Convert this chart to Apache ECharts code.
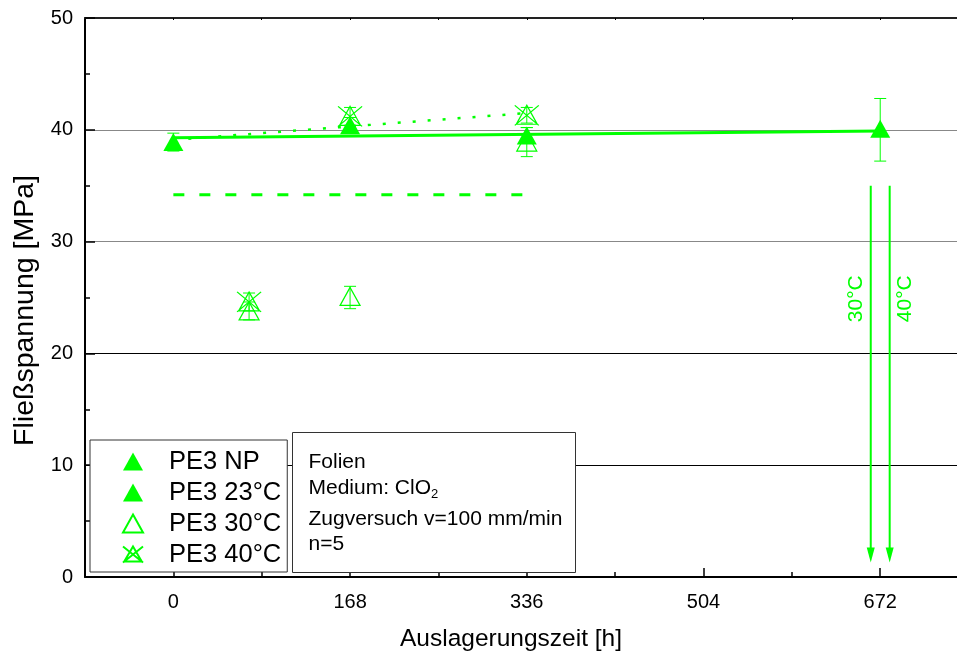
<!DOCTYPE html>
<html>
<head>
<meta charset="utf-8">
<script src="https://cdn.jsdelivr.net/npm/echarts@6/dist/echarts.min.js"></script>
<style>
  html, body { margin: 0; padding: 0; background: #fff; }
  #chart { width: 957px; height: 657px; }
</style>
</head>
<body>
<div id="chart"></div>
<script>
// Fließspannung von PE3-Folien nach Auslagerung in ClO2
const GREEN = '#00ff00';
const FONT = 'Liberation Sans, Arial, Helvetica, sans-serif';

const seriesNames = ['PE3 NP', 'PE3 23°C', 'PE3 30°C', 'PE3 40°C'];

const timesNP = [0];
const stressNP = [38.9];
const timesT23 = [168, 336, 672];
const stressT23 = [40.4, 39.5, 40.1];
const timesT30 = [72, 168, 336];
const stressT30 = [23.8, 25.1, 38.9];
const timesT40 = [72, 168, 336];
const stressT40 = [24.6, 41.2, 41.3];

// Streubereich (min / max) je Messpunkt
const errTimes = [0, 168, 336, 672, 72, 168, 336, 72, 168, 336];
const errLow   = [38.1, 39.7, 39.0, 37.2, 23.0, 24.0, 37.6, 23.8, 40.4, 40.6];
const errHigh  = [39.7, 41.1, 40.2, 42.8, 24.6, 26.0, 40.2, 25.4, 42.0, 42.0];

// Ausgleichsgeraden
const fitSolidTimes = [0, 672];
const fitSolidStress = [39.3, 39.9];
const fitDotTimes = [0, 336];
const fitDotStress = [39.1, 41.5];
const meanDashTimes = [0, 336];
const meanDashStress = [34.2, 34.2];

// Proben versagt vor 672 h
const failLabels = ['30°C', '40°C'];
const failTimes = [663, 681];
const failFrom = [35.0, 35.0];
const failTo = [1.3, 1.3];

// Achsen
const xMin = -84, xMax = 745;
const xMajorTicks = [0, 168, 336, 504, 672];
const xMinorTicks = [84, 252, 420, 588];
const xTopTicks = [0, 84, 168, 252, 336, 420, 504, 588, 672];
const yMin = 0, yMax = 50, yStep = 10;

const infoLines = ['Folien', 'Medium: ClO', 'Zugversuch v=100 mm/min', 'n=5'];

const pairs = (xs, ys) => xs.map((x, i) => [x, ys[i]]);

const crossTriangle = 'path://M12,1L22.5,19L1.5,19Z M0,1L24,20 M24,1L0,20';

const chart = echarts.init(document.getElementById('chart'), null, { renderer: 'canvas' });

const option = {
  backgroundColor: '#fff',
  animation: false,
  textStyle: { fontFamily: FONT },
  grid: { left: 85, right: 0, top: 18, bottom: 79, containLabel: false },
  xAxis: [
    {
      type: 'value', min: xMin, max: xMax, interval: 84, position: 'bottom',
      name: 'Auslagerungszeit [h]', nameLocation: 'middle', nameGap: 50,
      nameTextStyle: { fontSize: 24.5, color: '#000', fontFamily: FONT, padding: [0, 20, 0, 0] },
      axisLine: { show: true, onZero: false, lineStyle: { color: '#000', width: 2 } },
      axisTick: { show: true, inside: true, length: 9, customValues: xMajorTicks, lineStyle: { color: '#000', width: 1.5 } },
      axisLabel: {
        show: true, customValues: xMajorTicks, margin: 15, fontSize: 20, color: '#000', fontFamily: FONT,
        formatter: v => (v >= 0 && v % 168 === 0) ? String(v) : ''
      },
      splitLine: { show: false }
    },
    {
      type: 'value', min: xMin, max: xMax, interval: 84, position: 'bottom',
      axisLine: { show: false },
      axisTick: { show: true, inside: true, length: 5, customValues: xMinorTicks, lineStyle: { color: '#000', width: 1.5 } },
      axisLabel: { show: false },
      splitLine: { show: false }
    },
    {
      type: 'value', min: xMin, max: xMax, interval: 84, position: 'top',
      axisLine: { show: true, onZero: false, lineStyle: { color: '#222', width: 2 } },
      axisTick: { show: true, inside: true, length: 2, customValues: xTopTicks, lineStyle: { color: '#000', width: 1 } },
      axisLabel: { show: false },
      splitLine: { show: false }
    }
  ],
  yAxis: {
    type: 'value', min: yMin, max: yMax, interval: yStep, z: 0,
    name: 'Fließspannung [MPa]', nameLocation: 'middle', nameGap: 43,
    nameTextStyle: { fontSize: 28.5, color: '#000', fontFamily: FONT, padding: [0, 26, 0, 0] },
    axisLine: { show: true, onZero: false, lineStyle: { color: '#000', width: 2 } },
    axisTick: { show: true, inside: true, length: 10, lineStyle: { color: '#000', width: 1.5 } },
    minorTick: { show: true, splitNumber: 2, length: 5, lineStyle: { color: '#000', width: 1.5 } },
    axisLabel: { margin: 12, fontSize: 20, color: '#000', fontFamily: FONT },
    splitLine: { show: true, lineStyle: { color: ['#000', '#000', '#000', '#888', '#888', '#000'], width: 1 } },
    minorSplitLine: { show: false }
  },
  legend: {
    data: seriesNames,
    orient: 'vertical', left: 90, top: 440, zlevel: 2, z: 50,
    backgroundColor: '#fff', borderColor: '#333', borderWidth: 1,
    padding: [6, 6, 2, 32], itemGap: 0, itemWidth: 20, itemHeight: 18,
    selectedMode: false,
    textStyle: { fontSize: 25.5, color: '#000', fontFamily: FONT, lineHeight: 31, padding: [0, 0, 0, 21] }
  },
  graphic: [
    {
      type: 'group', left: 292, top: 432, zlevel: 2, z: 100,
      children: [
        { type: 'rect', z: 100, shape: { x: 0, y: 0, width: 283, height: 140 }, style: { fill: '#fff', stroke: '#333', lineWidth: 1 } },
        { type: 'text', z: 101, x: 16, y: 30, style: { text: infoLines[0], font: '21px ' + FONT, fill: '#000', verticalAlign: 'middle' } },
        {
          type: 'text', z: 101, x: 16, y: 56,
          style: {
            text: '{a|' + infoLines[1] + '}{s|2}', fill: '#000', verticalAlign: 'middle',
            rich: {
              a: { fontSize: 21, fontFamily: FONT, fill: '#000', lineHeight: 24, verticalAlign: 'middle' },
              s: { fontSize: 13, fontFamily: FONT, fill: '#000', lineHeight: 10, verticalAlign: 'bottom' }
            }
          }
        },
        { type: 'text', z: 101, x: 16, y: 87, style: { text: infoLines[2], font: '21px ' + FONT, fill: '#000', verticalAlign: 'middle' } },
        { type: 'text', z: 101, x: 16, y: 112, style: { text: infoLines[3], font: '21px ' + FONT, fill: '#000', verticalAlign: 'middle' } }
      ]
    }
  ],
  series: [
    {
      name: 'Streuung', type: 'custom', xAxisIndex: 0, z: 2,
      data: errTimes.map((t, i) => [t, errLow[i], errHigh[i]]),
      renderItem: (params, api) => {
        const lo = api.coord([api.value(0), api.value(1)]);
        const hi = api.coord([api.value(0), api.value(2)]);
        const hw = 6;
        const st = { stroke: GREEN, lineWidth: 1 };
        return {
          type: 'group', children: [
            { type: 'line', shape: { x1: lo[0], y1: lo[1], x2: hi[0], y2: hi[1] }, style: st },
            { type: 'line', shape: { x1: lo[0] - hw, y1: lo[1], x2: lo[0] + hw, y2: lo[1] }, style: st },
            { type: 'line', shape: { x1: hi[0] - hw, y1: hi[1], x2: hi[0] + hw, y2: hi[1] }, style: st }
          ]
        };
      }
    },
    {
      name: 'Mittelwert 30°C', type: 'line', data: pairs(meanDashTimes, meanDashStress),
      symbol: 'none', silent: true, z: 3,
      lineStyle: { color: GREEN, width: 3, type: [11, 15] }
    },
    {
      name: 'Trend 40°C', type: 'line', data: pairs(fitDotTimes, fitDotStress),
      symbol: 'none', silent: true, z: 3,
      lineStyle: { color: GREEN, width: 2.5, type: [3, 12] }
    },
    {
      name: 'Trend 23°C', type: 'line', data: pairs(fitSolidTimes, fitSolidStress),
      symbol: 'none', silent: true, z: 3,
      lineStyle: { color: GREEN, width: 3 }
    },
    {
      name: seriesNames[0], type: 'scatter', data: pairs(timesNP, stressNP), z: 4,
      symbol: 'triangle', symbolSize: [20, 18],
      itemStyle: { color: GREEN, opacity: 1 }
    },
    {
      name: seriesNames[1], type: 'scatter', data: pairs(timesT23, stressT23), z: 4,
      symbol: 'triangle', symbolSize: [20, 18],
      itemStyle: { color: GREEN, opacity: 1 }
    },
    {
      name: seriesNames[2], type: 'scatter', data: pairs(timesT30, stressT30), z: 5,
      symbol: 'triangle', symbolSize: [20, 18],
      itemStyle: { color: 'rgba(255,255,255,0)', borderColor: GREEN, borderWidth: 1.2, opacity: 1 }
    },
    {
      name: seriesNames[3], type: 'scatter', data: pairs(timesT40, stressT40), z: 5,
      symbol: crossTriangle, symbolSize: [24, 20],
      itemStyle: { color: 'rgba(255,255,255,0)', borderColor: GREEN, borderWidth: 1.2, opacity: 1 }
    },
    {
      name: 'Versagen', type: 'custom', z: 6,
      data: failTimes.map((t, i) => [t, failFrom[i], failTo[i], i]),
      renderItem: (params, api) => {
        const idx = api.value(3);
        const a = api.coord([api.value(0), api.value(1)]);
        const b = api.coord([api.value(0), api.value(2)]);
        const headH = 15, headW = 8;
        const labelPt = api.coord([api.value(0), api.value(1) - 0.3 * (api.value(1) - api.value(2))]);
        const side = idx === 0 ? -15 : 16;
        return {
          type: 'group', children: [
            { type: 'line', shape: { x1: a[0], y1: a[1], x2: b[0], y2: b[1] - headH + 2 }, style: { stroke: GREEN, lineWidth: 2 } },
            { type: 'polygon', shape: { points: [[b[0] - headW / 2, b[1] - headH], [b[0] + headW / 2, b[1] - headH], [b[0], b[1]]] }, style: { fill: GREEN } },
            {
              type: 'text', x: labelPt[0] + side, y: labelPt[1], rotation: Math.PI / 2,
              style: { text: failLabels[idx], font: '21px ' + FONT, fill: GREEN, align: 'center', verticalAlign: 'middle' }
            }
          ]
        };
      }
    }
  ]
};

chart.setOption(option);
</script>
</body>
</html>
